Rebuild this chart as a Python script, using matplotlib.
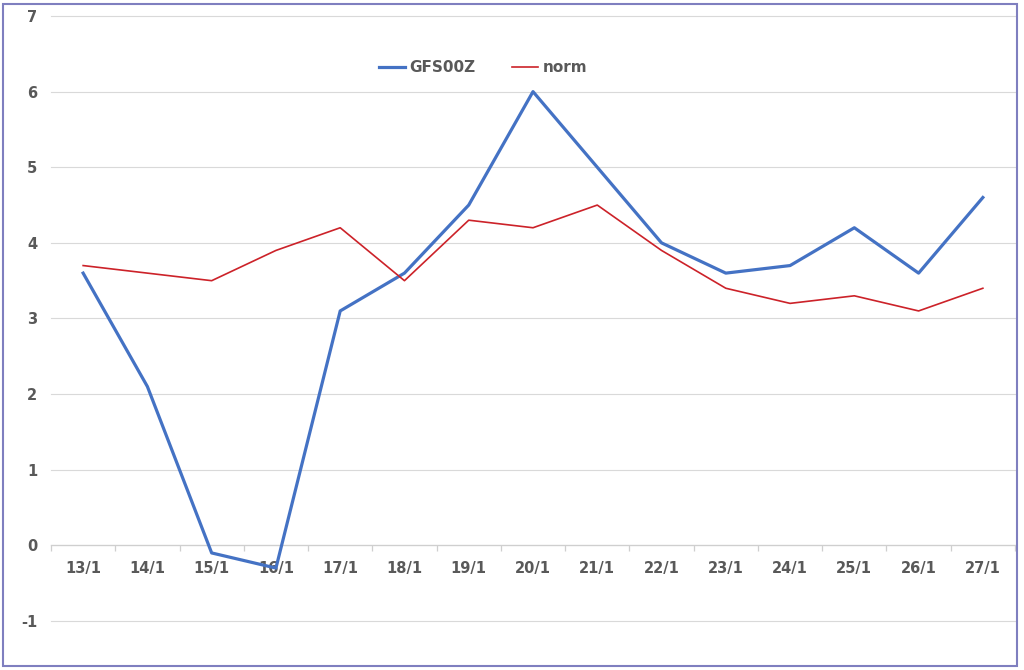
import matplotlib
matplotlib.use("Agg")
import matplotlib.pyplot as plt
from matplotlib.patches import Rectangle

categories = ["13/1", "14/1", "15/1", "16/1", "17/1", "18/1", "19/1", "20/1",
              "21/1", "22/1", "23/1", "24/1", "25/1", "26/1", "27/1"]
gfs00z = [3.6, 2.1, -0.1, -0.3, 3.1, 3.6, 4.5, 6.0, 5.0, 4.0, 3.6, 3.7, 4.2, 3.6, 4.6]
norm = [3.7, 3.6, 3.5, 3.9, 4.2, 3.5, 4.3, 4.2, 4.5, 3.9, 3.4, 3.2, 3.3, 3.1, 3.4]
yticks = [-1, 0, 1, 2, 3, 4, 5, 6, 7]

W, H = 1024, 670
fig = plt.figure(figsize=(W / 100, H / 100), dpi=100)
ax = fig.add_axes([51 / W, (H - 621) / H, (1015 - 51) / W, (621 - 16) / H])

x = list(range(len(categories)))
ax.plot(x, gfs00z, color="#4472C4", lw=2.3, label="GFS00Z", zorder=3)
ax.plot(x, norm, color="#CC2229", lw=1.2, label="norm", zorder=3)

ax.set_xlim(-0.5, len(categories) - 0.5)
ax.set_ylim(-1, 7)
ax.set_yticks(yticks)
ax.set_yticklabels([str(v) for v in yticks])
for v in yticks:
    ax.axhline(v, color="#D9D9D9", lw=0.8, zorder=0, clip_on=False)
for s in ["top", "right", "left"]:
    ax.spines[s].set_visible(False)
ax.spines["bottom"].set_position(("data", 0))
ax.spines["bottom"].set_color("#CFCFCF")
ax.spines["bottom"].set_linewidth(0.9)

ax.set_xticks(x)
ax.set_xticklabels(categories)
ax.set_xticks([i - 0.5 for i in range(len(categories) + 1)], minor=True)
ax.tick_params(axis="x", which="major", length=0, pad=11, labelsize=10.5,
               labelcolor="#595959")
ax.tick_params(axis="x", which="minor", length=4, color="#CFCFCF", width=0.9)
ax.tick_params(axis="y", length=0, pad=10, labelsize=10.5, labelcolor="#595959")
for lbl in ax.get_xticklabels() + ax.get_yticklabels():
    lbl.set_fontweight("bold")

leg = ax.legend(loc="upper center", bbox_to_anchor=(0.448, 0.95), ncol=2, frameon=False,
                handlelength=1.7, handletextpad=0.3, columnspacing=2.4,
                prop={"weight": "bold", "size": 11})
for t in leg.get_texts():
    t.set_color("#595959")

fig.patches.append(Rectangle((3 / W, 4 / H), (1017 - 3) / W, (666 - 4) / H,
                             transform=fig.transFigure, fill=False,
                             edgecolor="#7F7FBF", lw=1.5))

fig.savefig("out.png", dpi=100)
